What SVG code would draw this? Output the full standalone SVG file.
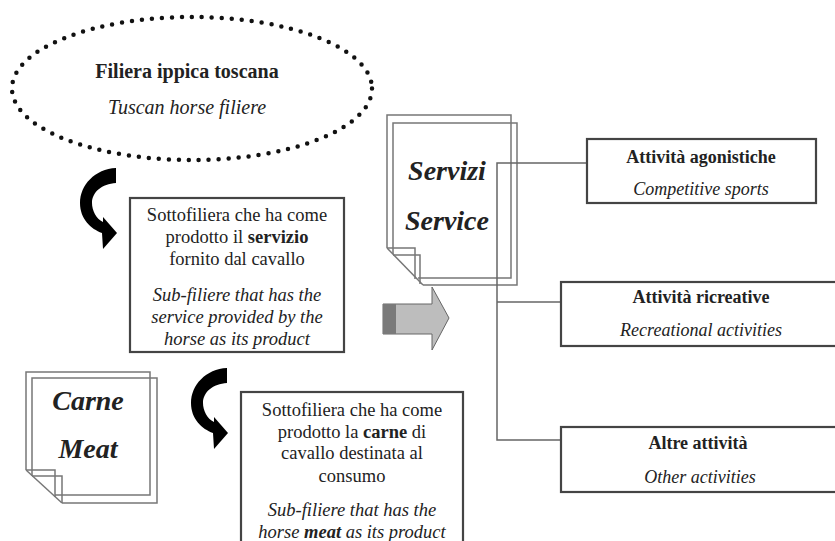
<svg xmlns="http://www.w3.org/2000/svg" width="835" height="541" viewBox="0 0 835 541" font-family="'Liberation Serif', 'DejaVu Serif', serif">
<style>
text{font-family:'Liberation Serif','DejaVu Serif',serif;fill:#222;text-anchor:middle}
.t20{font-size:20px}
.t18{font-size:18.5px}
.t17{font-size:18px}
.big{font-size:28px;font-weight:bold;font-style:italic}
.b{font-weight:bold}
.i{font-style:italic}
.box{fill:#fff;stroke:#444;stroke-width:2.2}
.page{fill:none;stroke:#777;stroke-width:1.5}
.conn{fill:none;stroke:#666;stroke-width:1.5}
.curl{fill:#000}
</style>
<defs>
<path id="curl" d="M116 168 C95 169 80 185 80 203 C80 219 91 229 102 233 L103 249 L117 233 L103 217 L103 222 C96 219 92 210 92 203 C92 192 102 184 116 183 Z"/>
</defs>
<rect width="835" height="541" fill="#fff"/>

<g id="filiera">
<ellipse cx="192" cy="88.5" rx="180" ry="71.5" fill="none" stroke="#111" stroke-width="4.5" stroke-linecap="round" stroke-dasharray="0 10"/>
<text x="187" y="78" class="t20 b">Filiera ippica toscana</text>
<text x="187" y="114" class="t20 i">Tuscan horse filiere</text>
</g>

<g id="arrow-curl-1"><use href="#curl" class="curl"/></g>
<g id="arrow-curl-2"><use href="#curl" class="curl" transform="translate(111 200)"/></g>

<g id="sottofiliera-servizio">
<rect class="box" x="130" y="198" width="214" height="154"/>
<text x="237" y="221" class="t18">Sottofiliera che ha come</text>
<text x="237" y="243" class="t18">prodotto il <tspan class="b">servizio</tspan></text>
<text x="237" y="265" class="t18">fornito dal cavallo</text>
<text x="237" y="301" class="t18 i">Sub-filiere that has the</text>
<text x="237" y="323" class="t18 i">service provided by the</text>
<text x="237" y="345" class="t18 i">horse as its product</text>
</g>

<g id="carne">
<path class="page" d="M26 470 V372 H150 V495 H55"/>
<path class="page" d="M32 476 V378 H157 V503 H62"/>
<path class="page" d="M26 470 L62 503"/>
<path class="page" d="M26 470 H55 V497"/>
<path class="page" d="M32 476 H62 V503"/>
<text x="88" y="410" class="big">Carne</text>
<text x="88" y="458" class="big">Meat</text>
</g>

<g id="sottofiliera-carne">
<rect class="box" x="241" y="392" width="222" height="160"/>
<text x="352" y="416" class="t18">Sottofiliera che ha come</text>
<text x="352" y="437.5" class="t18">prodotto la <tspan class="b">carne</tspan> di</text>
<text x="352" y="459" class="t18">cavallo destinata al</text>
<text x="352" y="482" class="t18">consumo</text>
<text x="352" y="516" class="t18 i">Sub-filiere that has the</text>
<text x="352" y="538" class="t18 i">horse <tspan class="b">meat</tspan> as its product</text>
</g>

<g id="servizi">
<path class="page" d="M387 248 V115 H511 V278 H418"/>
<path class="page" d="M393 254 V123 H517 V285 H423"/>
<path class="page" d="M387 248 L423 285"/>
<path class="page" d="M387 248 H415 V279"/>
<path class="page" d="M393 255 H420 V284"/>
<text x="447" y="180" class="big">Servizi</text>
<text x="447" y="230" class="big">Service</text>
</g>

<g id="block-arrow">
<polygon points="383,304 432,304 432,287 449,318 432,350 432,334 383,334" fill="#bdbdbd" stroke="#666" stroke-width="1"/>
<rect x="383" y="304" width="13" height="30" fill="#7a7a7a"/>
</g>

<g id="connectors">
<path class="conn" d="M587 163 H497 V440 H561"/>
<path class="conn" d="M497 302 H561"/>
</g>

<g id="agonistiche">
<rect class="box" x="587" y="139" width="229" height="64"/>
<text x="701" y="163" class="t17 b">Attività agonistiche</text>
<text x="701" y="195" class="t17 i">Competitive sports</text>
</g>

<g id="ricreative">
<rect class="box" x="561" y="282" width="290" height="64"/>
<text x="701" y="303" class="t17 b">Attività ricreative</text>
<text x="701" y="336" class="t17 i">Recreational activities</text>
</g>

<g id="altre">
<rect class="box" x="561" y="427" width="290" height="65"/>
<text x="698" y="449" class="t17 b">Altre attività</text>
<text x="700" y="483" class="t17 i">Other activities</text>
</g>
</svg>
